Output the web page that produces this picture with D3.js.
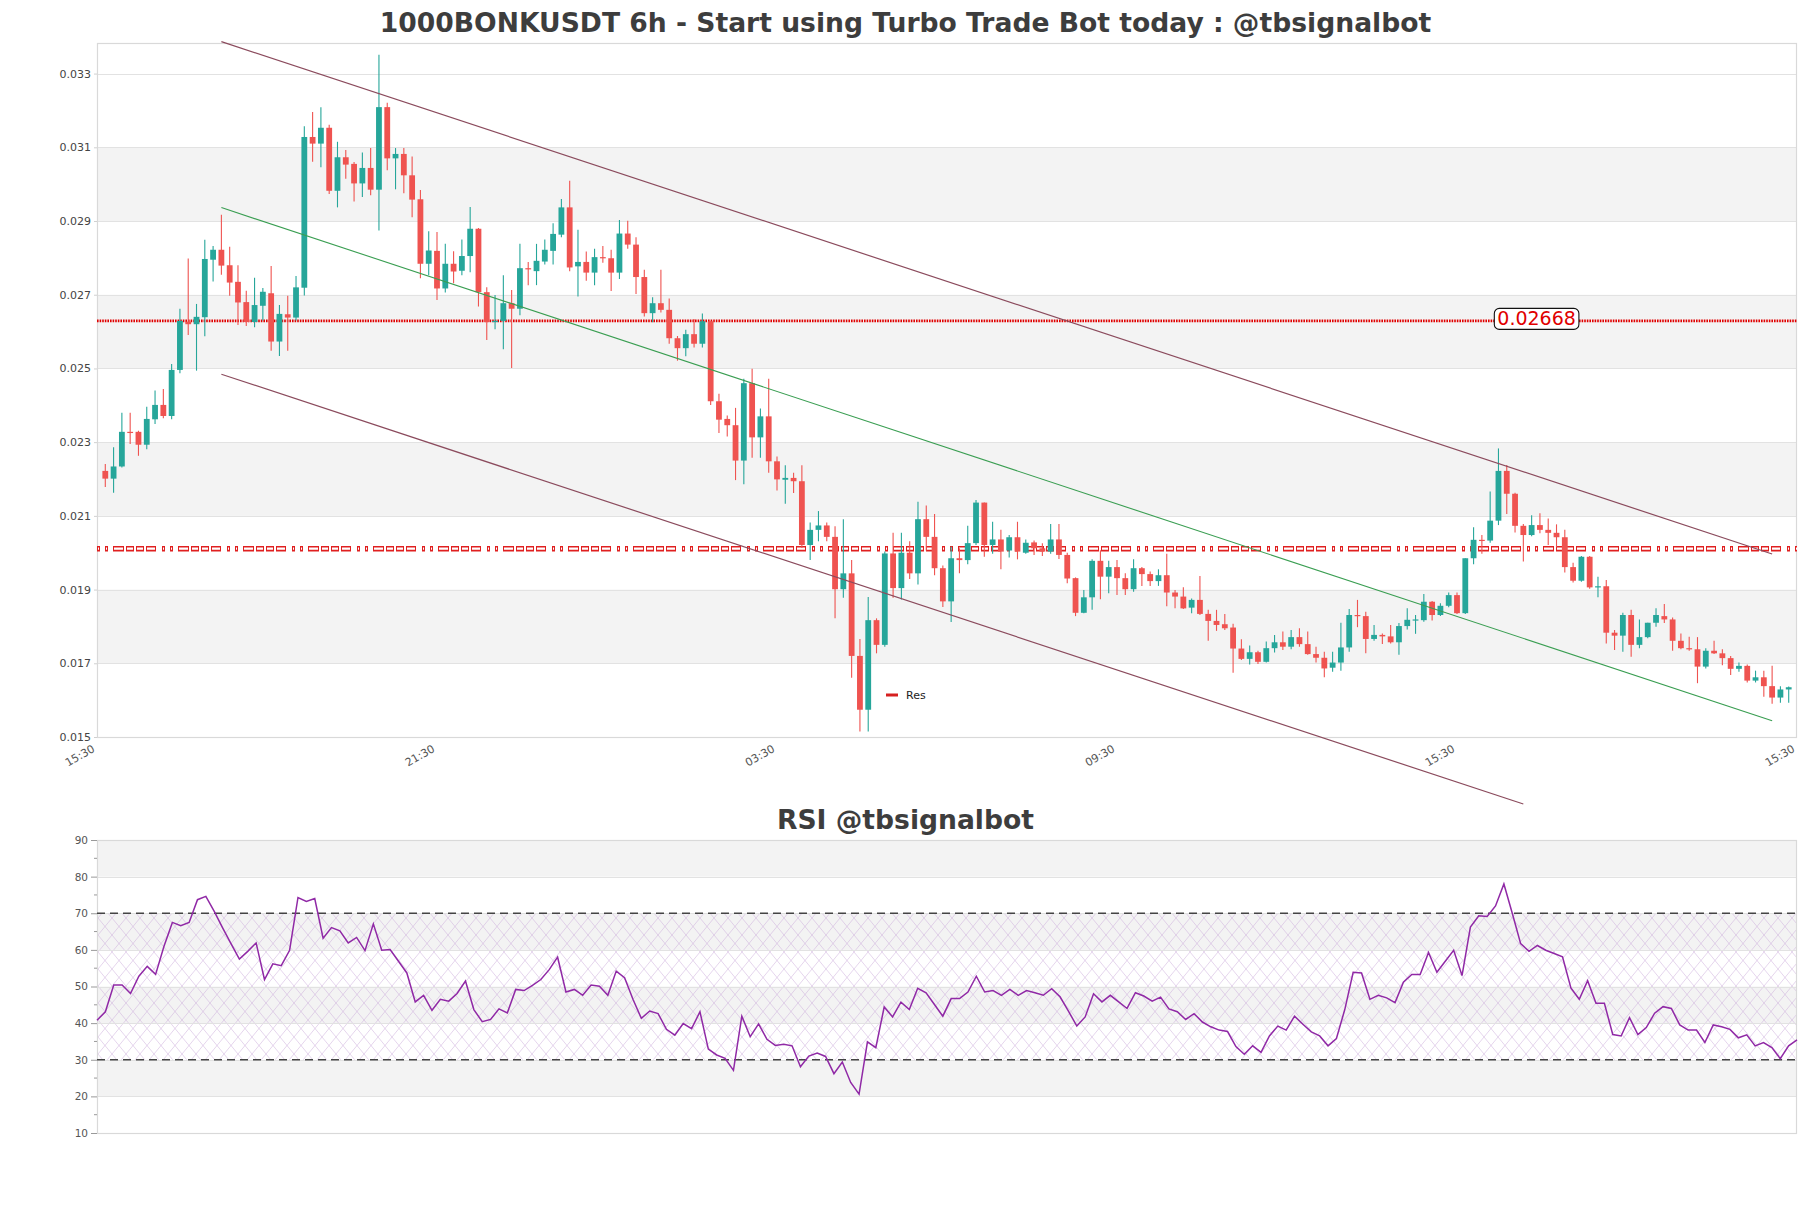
<!DOCTYPE html>
<html><head><meta charset="utf-8">
<script src="https://cdn.jsdelivr.net/npm/d3@7"></script>
<style>body{margin:0;background:#fff;} svg{display:block;font-family:"DejaVu Sans",sans-serif;}</style>
</head><body><svg id="c" width="1811" height="1208"></svg>
<script>
// ---------- DATA ----------
const opens=[0.02222,0.02201,0.02234,0.02328,0.02328,0.02293,0.02362,0.02401,0.02371,0.02496,0.02627,0.02620,0.02639,0.02795,0.02822,0.02780,0.02735,0.02680,0.02626,0.02670,0.02704,0.02573,0.02647,0.02638,0.02719,0.03128,0.03110,0.03153,0.02982,0.03073,0.03055,0.03002,0.03044,0.02985,0.03209,0.03070,0.03082,0.03024,0.02959,0.02784,0.02819,0.02717,0.02784,0.02765,0.02805,0.02879,0.02707,0.02626,0.02629,0.02677,0.02662,0.02772,0.02764,0.02790,0.02819,0.02863,0.02937,0.02777,0.02789,0.02760,0.02802,0.02799,0.02760,0.02866,0.02836,0.02748,0.02650,0.02677,0.02659,0.02582,0.02555,0.02593,0.02567,0.02628,0.02411,0.02363,0.02346,0.02250,0.02460,0.02313,0.02370,0.02248,0.02198,0.02203,0.02194,0.02021,0.02062,0.02074,0.02043,0.01901,0.01944,0.01720,0.01574,0.01817,0.01750,0.01998,0.01904,0.02000,0.01944,0.02091,0.02043,0.01958,0.01868,0.01985,0.01980,0.02026,0.02136,0.02021,0.02036,0.02006,0.02042,0.02000,0.02028,0.02012,0.02003,0.02036,0.01994,0.01931,0.01837,0.01879,0.01978,0.01935,0.01961,0.01931,0.01901,0.01958,0.01942,0.01923,0.01939,0.01892,0.01881,0.01851,0.01872,0.01834,0.01815,0.01806,0.01797,0.01740,0.01712,0.01730,0.01704,0.01741,0.01757,0.01745,0.01771,0.01752,0.01725,0.01715,0.01688,0.01702,0.01743,0.01831,0.01828,0.01766,0.01777,0.01773,0.01757,0.01801,0.01817,0.01817,0.01867,0.01831,0.01856,0.01885,0.01836,0.01985,0.02035,0.02033,0.02087,0.02222,0.02160,0.02073,0.02048,0.02075,0.02062,0.02054,0.02042,0.01961,0.01924,0.01989,0.01906,0.01909,0.01783,0.01775,0.01831,0.01750,0.01771,0.01810,0.01828,0.01819,0.01761,0.01741,0.01738,0.01691,0.01734,0.01727,0.01714,0.01685,0.01693,0.01653,0.01662,0.01638,0.01607,0.01629];
const highs=[0.02241,0.02286,0.02380,0.02380,0.02331,0.02396,0.02440,0.02444,0.02512,0.02662,0.02798,0.02675,0.02849,0.02832,0.02917,0.02830,0.02780,0.02711,0.02746,0.02718,0.02778,0.02672,0.02697,0.02751,0.03157,0.03196,0.03209,0.03161,0.03115,0.03093,0.03060,0.03086,0.03098,0.03351,0.03221,0.03098,0.03098,0.03075,0.02984,0.02872,0.02870,0.02838,0.02818,0.02850,0.02938,0.02881,0.02720,0.02699,0.02753,0.02713,0.02838,0.02789,0.02838,0.02850,0.02894,0.02960,0.03009,0.02876,0.02817,0.02825,0.02832,0.02822,0.02903,0.02901,0.02856,0.02768,0.02693,0.02768,0.02690,0.02588,0.02605,0.02634,0.02649,0.02628,0.02431,0.02372,0.02393,0.02472,0.02499,0.02391,0.02472,0.02261,0.02237,0.02217,0.02237,0.02082,0.02113,0.02082,0.02072,0.02091,0.01980,0.01766,0.01880,0.01822,0.02003,0.02054,0.02054,0.02031,0.02138,0.02128,0.02105,0.01965,0.02016,0.02012,0.02073,0.02143,0.02136,0.02084,0.02062,0.02048,0.02084,0.02036,0.02033,0.02026,0.02078,0.02078,0.02000,0.01933,0.01899,0.01982,0.02007,0.01978,0.01980,0.01944,0.01982,0.01961,0.01949,0.01955,0.01997,0.01899,0.01906,0.01876,0.01937,0.01845,0.01845,0.01834,0.01807,0.01765,0.01748,0.01734,0.01759,0.01777,0.01786,0.01790,0.01795,0.01786,0.01745,0.01731,0.01731,0.01810,0.01847,0.01872,0.01840,0.01804,0.01781,0.01804,0.01809,0.01849,0.01831,0.01888,0.01869,0.01863,0.01892,0.01892,0.01985,0.02069,0.02048,0.02166,0.02283,0.02238,0.02163,0.02078,0.02102,0.02107,0.02093,0.02077,0.02062,0.01973,0.01991,0.01991,0.01935,0.01926,0.01790,0.01837,0.01845,0.01819,0.01810,0.01849,0.01861,0.01824,0.01781,0.01772,0.01771,0.01741,0.01761,0.01738,0.01720,0.01702,0.01697,0.01680,0.01680,0.01693,0.01638,0.01637];
const lows=[0.02178,0.02163,0.02231,0.02295,0.02263,0.02281,0.02349,0.02365,0.02362,0.02487,0.02591,0.02494,0.02587,0.02736,0.02754,0.02697,0.02618,0.02615,0.02612,0.02630,0.02548,0.02534,0.02548,0.02630,0.02698,0.03061,0.03046,0.02973,0.02937,0.03015,0.02953,0.02965,0.02970,0.02874,0.03038,0.02986,0.02975,0.02910,0.02745,0.02753,0.02686,0.02706,0.02731,0.02753,0.02761,0.02668,0.02577,0.02606,0.02552,0.02501,0.02644,0.02726,0.02726,0.02782,0.02782,0.02856,0.02764,0.02695,0.02738,0.02726,0.02787,0.02710,0.02743,0.02825,0.02702,0.02641,0.02625,0.02652,0.02567,0.02521,0.02533,0.02557,0.02557,0.02401,0.02325,0.02315,0.02197,0.02186,0.02258,0.02258,0.02217,0.02169,0.02133,0.02162,0.02013,0.01980,0.02031,0.02031,0.01822,0.01878,0.01661,0.01515,0.01515,0.01727,0.01745,0.01878,0.01873,0.01929,0.01914,0.02006,0.01939,0.01853,0.01812,0.01944,0.01969,0.02021,0.01989,0.01997,0.01955,0.01987,0.01982,0.01997,0.01994,0.01991,0.01997,0.01983,0.01917,0.01828,0.01836,0.01845,0.01874,0.01890,0.01885,0.01885,0.01894,0.01910,0.01910,0.01910,0.01855,0.01849,0.01847,0.01836,0.01831,0.01761,0.01788,0.01790,0.01674,0.01709,0.01697,0.01698,0.01702,0.01729,0.01736,0.01738,0.01745,0.01723,0.01702,0.01662,0.01677,0.01680,0.01731,0.01798,0.01727,0.01761,0.01752,0.01754,0.01723,0.01792,0.01780,0.01813,0.01816,0.01828,0.01852,0.01834,0.01834,0.01969,0.01997,0.02027,0.02075,0.02105,0.02055,0.01976,0.02045,0.02053,0.02021,0.02015,0.01946,0.01919,0.01921,0.01902,0.01879,0.01754,0.01736,0.01731,0.01718,0.01741,0.01768,0.01799,0.01809,0.01734,0.01738,0.01734,0.01646,0.01686,0.01725,0.01695,0.01668,0.01677,0.01648,0.01648,0.01609,0.01590,0.01593,0.01593];
const closes=[0.02201,0.02234,0.02328,0.02326,0.02293,0.02363,0.02401,0.02371,0.02496,0.02629,0.02620,0.02640,0.02797,0.02822,0.02779,0.02733,0.02679,0.02626,0.02672,0.02708,0.02573,0.02648,0.02638,0.02720,0.03128,0.03110,0.03153,0.02982,0.03073,0.03053,0.03002,0.03044,0.02985,0.03209,0.03070,0.03082,0.03024,0.02958,0.02784,0.02820,0.02717,0.02784,0.02763,0.02805,0.02879,0.02707,0.02626,0.02629,0.02677,0.02662,0.02772,0.02769,0.02792,0.02822,0.02865,0.02937,0.02774,0.02789,0.02760,0.02802,0.02799,0.02760,0.02866,0.02836,0.02748,0.02650,0.02677,0.02659,0.02582,0.02555,0.02593,0.02567,0.02628,0.02411,0.02361,0.02346,0.02250,0.02460,0.02313,0.02370,0.02248,0.02199,0.02203,0.02194,0.02021,0.02062,0.02074,0.02043,0.01901,0.01944,0.01720,0.01574,0.01817,0.01750,0.01998,0.01904,0.02000,0.01944,0.02091,0.02043,0.01958,0.01868,0.01985,0.01980,0.02026,0.02136,0.02021,0.02036,0.02003,0.02042,0.02003,0.02027,0.02012,0.02003,0.02036,0.01994,0.01930,0.01837,0.01879,0.01978,0.01935,0.01961,0.01931,0.01901,0.01958,0.01942,0.01923,0.01939,0.01892,0.01881,0.01849,0.01872,0.01834,0.01815,0.01804,0.01795,0.01740,0.01712,0.01730,0.01704,0.01741,0.01757,0.01745,0.01771,0.01752,0.01725,0.01715,0.01686,0.01702,0.01743,0.01831,0.01828,0.01766,0.01777,0.01773,0.01757,0.01801,0.01818,0.01819,0.01867,0.01831,0.01856,0.01885,0.01836,0.01985,0.02035,0.02033,0.02087,0.02222,0.02160,0.02073,0.02048,0.02075,0.02062,0.02054,0.02042,0.01961,0.01924,0.01989,0.01906,0.01909,0.01783,0.01775,0.01831,0.01750,0.01771,0.01810,0.01831,0.01819,0.01761,0.01741,0.01738,0.01691,0.01734,0.01727,0.01714,0.01685,0.01693,0.01653,0.01662,0.01638,0.01607,0.01629,0.01635];
const rsiValues=[40.8,43.1,50.4,50.4,48.1,52.8,55.5,53.3,61.0,67.5,66.6,67.5,73.7,74.6,70.5,66.0,61.7,57.5,59.6,61.9,51.9,56.2,55.7,59.9,74.3,73.2,74.0,63.2,66.1,65.2,61.9,63.4,59.8,67.1,59.9,60.1,56.9,53.7,45.8,47.6,43.5,46.5,46.0,48.1,51.5,43.7,40.4,41.0,43.9,42.8,49.2,48.9,50.3,51.9,54.6,58.0,48.5,49.2,47.6,50.4,50.1,47.6,54.2,52.4,46.5,41.3,43.3,42.6,38.3,36.7,39.9,38.5,43.1,32.9,31.3,30.4,27.1,41.9,36.3,39.8,35.6,33.9,34.2,33.8,28.1,31.0,31.8,30.9,26.2,29.4,23.8,20.6,34.9,33.3,44.4,41.7,45.7,43.7,49.5,48.3,45.1,41.9,46.7,46.7,48.5,52.8,48.5,48.9,47.6,49.2,47.6,48.9,48.3,47.6,49.4,47.2,43.3,39.2,41.7,48.0,45.8,47.6,45.8,44.0,48.3,47.4,46.0,47.1,43.9,43.1,41.0,42.6,40.3,39.0,38.1,37.7,33.6,31.5,33.8,32.0,36.5,39.2,38.1,41.9,39.7,37.6,36.5,33.8,35.8,43.7,53.9,53.7,46.5,47.6,46.9,45.6,51.2,53.3,53.3,59.3,53.9,56.9,59.9,53.0,66.2,69.3,69.1,72.0,78.0,70.0,61.7,59.6,61.2,59.9,59.0,58.1,49.6,46.5,51.6,45.4,45.4,36.9,36.5,41.5,36.9,38.8,42.7,44.5,44.0,39.5,38.1,38.1,34.7,39.5,39.0,38.3,36.0,36.8,33.8,34.7,33.3,30.3,33.8,35.4];
const priceTicks=[0.015,0.017,0.019,0.021,0.023,0.025,0.027,0.029,0.031,0.033];
const timeTickIndex=[-1,40,81,122,163,204];
const timeTickLabels=["15:30","21:30","03:30","09:30","15:30","15:30"];
const rsiTicks=[10,20,30,40,50,60,70,80,90];
const resistanceLevel=0.02629, resistanceLabel="0.02668";
const supportLevel=0.02011;
const channelUpper=[[14,0.033868],[201,0.019966]];
const channelMid=[[14,0.029364],[201,0.015442]];
const channelLower=[[14,0.024843],[171,0.013182]];
const titleText="1000BONKUSDT 6h - Start using Turbo Trade Bot today : @tbsignalbot";
const rsiTitle="RSI @tbsignalbot";

// ---------- LAYOUT ----------
const W=1811,H=1208;
const M={l:97,r:1797,t:43,b:737};
const R={l:97,r:1797,t:840,b:1133};
const UP="#26a69a", DN="#ef5350";
const svg=d3.select("#c");
svg.append("rect").attr("width",W).attr("height",H).attr("fill","#fff");
const defs=svg.append("defs");
const pat=defs.append("pattern").attr("id","hatch").attr("patternUnits","userSpaceOnUse").attr("width",14).attr("height",17);
pat.append("path").attr("d","M0,0L14,17M14,0L0,17").attr("stroke","#c9a6d9").attr("stroke-width",0.6).attr("fill","none").attr("opacity",0.8);

const x=d3.scaleLinear().domain([-1,204]).range([M.l,M.r]);
const y=d3.scaleLinear().domain([0.015,0.03383]).range([M.b,M.t]);

function fit(sel,w){const l=sel.node().getComputedTextLength();sel.attr("font-size",parseFloat(sel.attr("font-size"))*w/l);}
// title
const t1=svg.append("text").attr("x",W/2).attr("y",32).attr("text-anchor","middle").attr("font-weight","bold").attr("font-size",26).attr("fill","#3d3d3d").text(titleText);
fit(t1,1052);

// bands
const g=svg.append("g");
for(let k=1;k<priceTicks.length-1;k+=2){
  g.append("rect").attr("x",M.l).attr("width",M.r-M.l).attr("y",y(priceTicks[k+1])).attr("height",y(priceTicks[k])-y(priceTicks[k+1])).attr("fill","#f3f3f3");
}
g.selectAll(".gl").data(priceTicks).join("line").attr("x1",M.l).attr("x2",M.r).attr("y1",d=>Math.round(y(d))+0.5).attr("y2",d=>Math.round(y(d))+0.5).attr("stroke","#e2e2e2").attr("stroke-width",1.2);
g.append("rect").attr("x",M.l+0.5).attr("y",M.t+0.5).attr("width",M.r-M.l-1).attr("height",M.b-M.t).attr("fill","none").attr("stroke","#d9d9d9").attr("stroke-width",1.2);

// y axis labels
const ya=d3.axisLeft(y).tickValues(priceTicks).tickFormat(d3.format(".3f")).tickSize(3);
const yg=svg.append("g").attr("transform",`translate(${M.l},0)`).call(ya);
yg.select(".domain").remove();
yg.selectAll("line").attr("stroke","#d0d0d0");
yg.selectAll("text").attr("font-size",11).attr("fill","#444").attr("font-family","DejaVu Sans");

// x labels
const xa=d3.axisBottom(x).tickValues(timeTickIndex).tickFormat((d,i)=>timeTickLabels[i]).tickSize(0);
const xg=svg.append("g").attr("transform",`translate(0,${M.b})`).call(xa);
xg.select(".domain").remove();
xg.selectAll("text").attr("font-size",11).attr("fill","#555").attr("font-family","DejaVu Sans")
  .attr("text-anchor","end").attr("dy",null).attr("y",0)
  .attr("transform","translate(-2,14) rotate(-30)");

// resistance dotted line
svg.append("line").attr("x1",M.l).attr("x2",M.r).attr("y1",y(resistanceLevel)).attr("y2",y(resistanceLevel))
  .attr("stroke","#e00000").attr("stroke-width",2.6).attr("stroke-dasharray","1.6,1");
// support hollow dashed line (outline style)
const sy=y(supportLevel);
const outer=[3,5,3,5,11,2,8,2,8,2,10,6];
const inner=outer.map((v,i)=>i%2===0?Math.max(0.8,v-2):v+2-(outer[i-1]-2>0.8?0:0));
svg.append("line").attr("x1",M.l).attr("x2",M.r).attr("y1",sy).attr("y2",sy)
  .attr("stroke","#e02020").attr("stroke-width",5.5).attr("stroke-dasharray",outer.join(","));
svg.append("line").attr("x1",M.l).attr("x2",M.r).attr("y1",sy).attr("y2",sy)
  .attr("stroke","#fff").attr("stroke-width",2.4).attr("stroke-dasharray",inner.join(",")).attr("stroke-dashoffset",-1);

// candles
const cw=5.8;
const idx=d3.range(opens.length);
const cg=svg.append("g");
cg.selectAll(".wk").data(idx).join("line").attr("x1",i=>x(i)).attr("x2",i=>x(i)).attr("y1",i=>y(highs[i])).attr("y2",i=>y(lows[i]))
  .attr("stroke",i=>closes[i]>=opens[i]?UP:DN).attr("stroke-width",1.1);
cg.selectAll(".bd").data(idx).join("rect").attr("x",i=>x(i)-cw/2).attr("width",cw)
  .attr("y",i=>y(Math.max(opens[i],closes[i]))).attr("height",i=>Math.max(1.2,Math.abs(y(opens[i])-y(closes[i]))))
  .attr("fill",i=>closes[i]>=opens[i]?UP:DN);

// channel lines
const ln=d3.line().x(d=>x(d[0])).y(d=>y(d[1]));
svg.append("path").attr("d",ln(channelUpper)).attr("stroke","#8b4b5d").attr("stroke-width",1.2).attr("fill","none");
svg.append("path").attr("d",ln(channelLower)).attr("stroke","#8b4b5d").attr("stroke-width",1.2).attr("fill","none");
svg.append("path").attr("d",ln(channelMid)).attr("stroke","#3a9e52").attr("stroke-width",1.1).attr("fill","none");

// resistance label
const lx=x(172.6), ly=y(resistanceLevel)-2;
const lg=svg.append("g");
const lrect=lg.append("rect");
const lt=lg.append("text").attr("x",lx).attr("y",ly+6.5).attr("text-anchor","middle").attr("font-size",19).attr("fill","#e00000").text(resistanceLabel);
const bb=lt.node().getBBox();
lrect.attr("x",bb.x-3).attr("y",ly-10.5).attr("width",bb.width+6).attr("height",21).attr("rx",5).attr("fill","#fff").attr("stroke","#111").attr("stroke-width",1.1);

// legend
svg.append("line").attr("x1",886).attr("x2",898).attr("y1",695).attr("y2",695).attr("stroke","#d62020").attr("stroke-width",3);
svg.append("text").attr("x",906).attr("y",698.5).attr("font-size",11).attr("fill","#222").text("Res");

// ---------- RSI ----------
const xr=d3.scaleLinear().domain([0,rsiValues.length-1]).range([R.l,R.r]);
const yr=d3.scaleLinear().domain([10,90]).range([R.b,R.t]);
const t2=svg.append("text").attr("x",W/2).attr("y",829).attr("text-anchor","middle").attr("font-weight","bold").attr("font-size",26).attr("fill","#3d3d3d").text(rsiTitle);
fit(t2,257);
const rg=svg.append("g");
[[20,30],[40,50],[60,70],[80,90]].forEach(b=>{
  rg.append("rect").attr("x",R.l).attr("width",R.r-R.l).attr("y",yr(b[1])).attr("height",yr(b[0])-yr(b[1])).attr("fill","#f3f3f3");
});
rg.append("rect").attr("x",R.l).attr("width",R.r-R.l).attr("y",yr(70)).attr("height",yr(30)-yr(70)).attr("fill","url(#hatch)");
rg.selectAll(".rgl").data(rsiTicks).join("line").attr("x1",R.l).attr("x2",R.r).attr("y1",d=>Math.round(yr(d))+0.5).attr("y2",d=>Math.round(yr(d))+0.5).attr("stroke","#e2e2e2").attr("stroke-width",1.2);
rg.append("rect").attr("x",R.l+0.5).attr("y",R.t+0.5).attr("width",R.r-R.l-1).attr("height",R.b-R.t).attr("fill","none").attr("stroke","#d9d9d9").attr("stroke-width",1.2);
[30,70].forEach(v=>rg.append("line").attr("x1",R.l).attr("x2",R.r).attr("y1",yr(v)).attr("y2",yr(v)).attr("stroke","#444").attr("stroke-width",1.3).attr("stroke-dasharray","8,5"));
const ra=d3.axisLeft(yr).tickValues(rsiTicks).tickSize(6);
const rag=svg.append("g").attr("transform",`translate(${R.l},0)`).call(ra);
rag.select(".domain").remove();
rag.selectAll("line").attr("stroke","#999");
rag.selectAll("text").attr("font-size",10.5).attr("fill","#555").attr("font-family","DejaVu Sans");
const minor=d3.range(15,90,10);
svg.append("g").selectAll("line").data(minor).join("line").attr("x1",R.l-3).attr("x2",R.l).attr("y1",d=>yr(d)).attr("y2",d=>yr(d)).attr("stroke","#999");
svg.append("path").datum(rsiValues).attr("d",d3.line().x((d,i)=>xr(i)).y(d=>yr(d))).attr("stroke","#9029a6").attr("stroke-width",1.5).attr("fill","none");
</script></body></html>
